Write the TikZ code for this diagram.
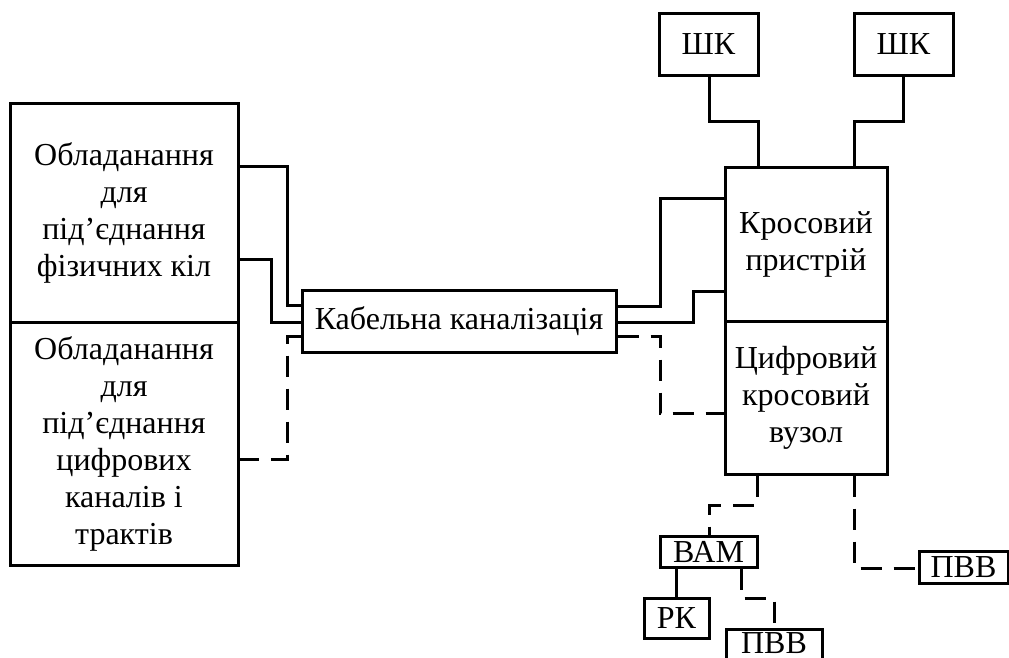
\documentclass[tikz,border=0pt]{standalone}
\usepackage{fontspec}
\setmainfont{Liberation Serif}
\begin{document}
\begin{tikzpicture}[x=1pt,y=1pt,
  box/.style={draw,line width=3pt,rectangle,inner sep=0pt,align=center,font=\fontsize{32}{37}\selectfont},
  ln/.style={line width=3pt},
  dsh/.style={line width=3pt,dash pattern=on 21pt off 12pt}]
\useasboundingbox (0,0) rectangle (1009,-657);
% left boxes
\node[box,minimum width=228,minimum height=219] (lt) at (124,-212.5) {Обладанання\\для\\під’єднання\\фізичних кіл};
\node[box,minimum width=228,minimum height=243] (lb) at (124,-443.5) {Обладанання\\для\\під’єднання\\цифрових\\каналів і\\трактів};
% cable
\node[box,minimum width=314,minimum height=62] (cab) at (459,-321) {Кабельна каналізація};
% right boxes
\node[box,minimum width=162,minimum height=154] (rt) at (806,-244) {Кросовий\\пристрій};
\node[box,minimum width=162,minimum height=153] (rb) at (806,-397.5) {Цифровий\\кросовий\\вузол};
% top
\node[box,minimum width=99,minimum height=62] (sk1) at (708.5,-44) {ШК};
\node[box,minimum width=99,minimum height=62] (sk2) at (903.5,-44) {ШК};
% bottom
\node[box,minimum width=97,minimum height=31] (vam) at (708.5,-551.5) {ВАМ};
\node[box,minimum width=65,minimum height=40] (rk) at (676.5,-618) {РК};
\node[box,minimum width=96,minimum height=40] (pvb) at (774,-649) {\smash{\raisebox{-4pt}{ПВВ}}};
\node[box,minimum width=89,minimum height=32] (pvr) at (963.5,-567) {ПВВ};
% left connections
\draw[ln] (lt.east |- 0,-166) -| (287,-305) -- (cab.west |- 0,-305);
\draw[ln] (lt.east |- 0,-259) -| (271,-322) -- (cab.west |- 0,-322);
\draw[dsh] (cab.west |- 0,-336) -| (287,-459) -- (lb.east |- 0,-459);
% right connections
\draw[ln] (cab.east |- 0,-306) -| (660,-198) -- (rt.west |- 0,-198);
\draw[ln] (cab.east |- 0,-322) -| (693,-291) -- (rt.west |- 0,-291);
\draw[dsh] (cab.east |- 0,-336) -| (660,-413) -- (rb.west |- 0,-413);
% top connections
\draw[ln] (sk1.south -| 709,0) |- (758,-121) -- (rt.north -| 758,0);
\draw[ln] (sk2.south -| 903,0) |- (854,-121) -- (rt.north -| 854,0);
% bottom connections
\draw[dsh] (rb.south -| 757,0) |- (709,-505) -- (vam.north -| 709,0);
\draw[ln] (vam.south -| 676,0) -- (rk.north -| 676,0);
\draw[dsh] (vam.south -| 741,0) |- (774,-598) -- (pvb.north -| 774,0);
\draw[dsh] (rb.south -| 854,0) |- (pvr.west |- 0,-568);
\end{tikzpicture}
\end{document}
